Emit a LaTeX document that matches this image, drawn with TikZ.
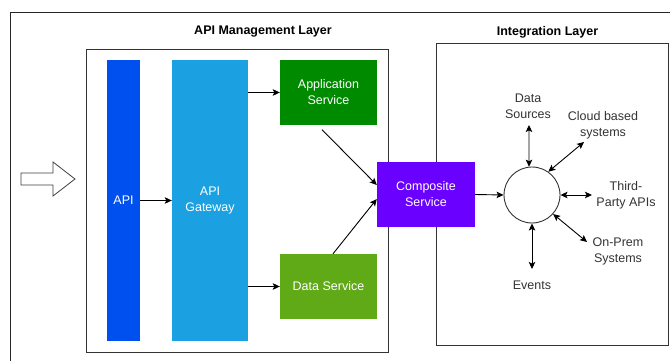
\documentclass[tikz,border=0pt]{standalone}
\usepackage{fontspec}
\setmainfont{Liberation Sans}
\usetikzlibrary{arrows.meta,shapes.geometric}

\definecolor{apiblue}{HTML}{0050EF}
\definecolor{gwblue}{HTML}{1BA1E2}
\definecolor{appgreen}{HTML}{008A00}
\definecolor{datagreen}{HTML}{60A917}
\definecolor{compviolet}{HTML}{6A00FF}
\definecolor{frameline}{HTML}{333333}
\definecolor{labeltext}{HTML}{333333}

\tikzset{
  px/.style={x=1pt,y=-1pt},
  svcbox/.style={rectangle,draw=none,inner sep=0pt,text=white,align=center,
    font=\fontsize{12.5}{16}\selectfont},
  layer/.style={draw=frameline,line width=0.9pt},
  title/.style={font=\fontsize{12.5}{16}\selectfont\bfseries,text=black},
  lbl/.style={text=labeltext,align=center,inner sep=0pt,
    font=\fontsize{12.5}{16}\selectfont},
  flow/.style={draw=black,line width=0.9pt,-{Stealth[length=7pt,width=6.5pt,inset=1.5pt]}},
  both/.style={draw=black,line width=0.9pt,
    {Stealth[length=7pt,width=6.5pt,inset=1.5pt]}-{Stealth[length=7pt,width=6.5pt,inset=1.5pt]}},
}

\begin{document}
\begin{tikzpicture}[px]
\useasboundingbox (0,0) rectangle (670,361);
\fill[white] (0,0) rectangle (670,361);
\clip (0,0) rectangle (670,361);

% outer frame (runs past the right and bottom edges)
\draw[draw=black!85,line width=0.9pt] (10,12) rectangle (690,380);

% layer containers
\draw[layer] (86,49) rectangle (388,352);
\draw[layer] (436,43) rectangle (668,345);
\node[title] (mgmtTitle) at (263,32) {API Management Layer};
\node[title] (intTitle) at (547.5,32) {Integration Layer};

% incoming request arrow
\draw[draw=black!75,line width=0.8pt,fill=white]
  (21,173) -- (53,173) -- (53,162) -- (75,179) -- (53,196) -- (53,185) -- (21,185) -- cycle;

% management layer services
\node[svcbox,fill=apiblue,minimum width=33pt,minimum height=281pt] (api) at (123.5,200.5) {API};
\node[svcbox,fill=gwblue,minimum width=76pt,minimum height=281pt] (gw) at (210,200.5) {API\\Gateway};
\node[svcbox,fill=appgreen,minimum width=97pt,minimum height=65pt] (app) at (328.5,92.5) {Application\\Service};
\node[svcbox,fill=datagreen,minimum width=97pt,minimum height=65pt] (data) at (328.5,286.5) {Data Service};
\node[svcbox,fill=compviolet,minimum width=98pt,minimum height=65pt] (comp) at (426,194.5) {Composite\\Service};

% integration hub
\node[circle,draw=black!80,line width=0.9pt,fill=white,minimum size=56pt,inner sep=0pt] (hub) at (532,195) {};

% integration endpoints
\node[lbl] (ds) at (528,106) {Data\\Sources};
\node[lbl] (cloud) at (603,125) {Cloud based\\systems};
\node[lbl] (third) at (626,195) {Third-\\Party APIs};
\node[lbl] (onprem) at (618,251) {On-Prem\\Systems};
\node[lbl] (events) at (532,285) {Events};

\coordinate (dsEnd) at (529,125);
\coordinate (cloudEnd) at (584,142);
\coordinate (thirdEnd) at (592,195);
\coordinate (onpremEnd) at (587,242);
\coordinate (eventsEnd) at (532,269);

% flows inside the management layer
\draw[flow] (api.east) -- (gw.west);
\draw[flow] (gw.east |- app.west) -- (app.west);
\draw[flow] (gw.east |- data.west) -- (data.west);
\draw[flow] ([shift={(-6.5,4.5)}]app.south) -- ([shift={(0,-9.5)}]comp.west);
\draw[flow] ([shift={(4.5,0)}]data.north) -- ([shift={(0,4.5)}]comp.west);
\draw[flow] (comp.east) -- (hub.west);

% two-way links from the hub
\draw[both] (hub.96) -- (dsEnd);
\draw[both] (hub.55) -- (cloudEnd);
\draw[both] (hub.east) -- (thirdEnd);
\draw[both] (hub.-42) -- (onpremEnd);
\draw[both] (hub.south) -- (eventsEnd);
\end{tikzpicture}
\end{document}
